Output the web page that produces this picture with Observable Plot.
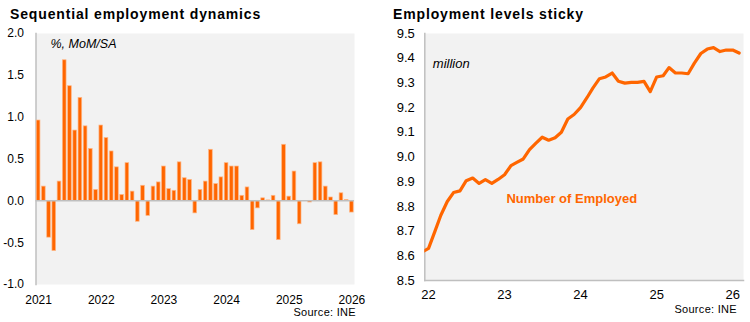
<!DOCTYPE html>
<html><head><meta charset="utf-8">
<script src="https://cdn.jsdelivr.net/npm/d3@7"></script>
<script src="https://cdn.jsdelivr.net/npm/@observablehq/plot@0.6"></script>
<style>
body{margin:0;background:#fff;font-family:"Liberation Sans",Arial,sans-serif;}
#wrap{position:relative;width:750px;height:322px;overflow:hidden;background:#fff;}
.t{position:absolute;white-space:nowrap;line-height:1;color:#000;}
.title{font-size:14px;font-weight:bold;letter-spacing:0.85px;}
.src{font-size:11px;text-align:right;letter-spacing:0.3px;}
.p{position:absolute;top:0;}
</style></head><body><div id="wrap">
<div class="t title" style="left:10px;top:7px">Sequential employment dynamics</div>
<div class="t title" style="left:393px;top:7px">Employment levels sticky</div>
<div class="t src" style="left:0;width:356px;top:307px">Source: INE</div>
<div class="t src" style="left:375px;width:362px;top:304px">Source: INE</div>
</div>
<script>
// ---- Left chart: monthly % change, Jan 2021 .. Jan 2026 ----
const momFirstYear = 2021;
const momValues = [
  0.96, 0.17, -0.44, -0.60, 0.23, 1.68, 1.37, 0.84, 1.23, 0.89, 0.62, 0.13,
  0.90, 0.75, 0.59, 0.40, 0.07, 0.45, 0.11, -0.25, 0.18, -0.18, 0.17, 0.22,
  0.41, 0.14, 0.12, 0.46, 0.27, 0.25, -0.15, 0.13, 0.23, 0.61, 0.20, 0.28,
  0.45, 0.41, 0.41, 0.06, 0.16, -0.35, -0.09, 0.03, 0.005, 0.06, -0.47, 0.67,
  0.05, 0.35, -0.28, 0.0, -0.02, 0.45, 0.46, 0.17, 0.04, -0.17, 0.09, 0.01, -0.14
];
const momYearTicks = ["2021", "2022", "2023", "2024", "2025", "2026"];
const momYTicks = [-1.0, -0.5, 0.0, 0.5, 1.0, 1.5, 2.0];

// ---- Right chart: employed persons (million), Dec 2021 .. Feb 2026 ----
const levelFirstMonth = "2021-12";
const levelValues = [
  8.615, 8.63, 8.70, 8.764, 8.82, 8.856, 8.863, 8.904, 8.915, 8.893, 8.908, 8.893,
  8.909, 8.928, 8.965, 8.978, 8.992, 9.030, 9.056, 9.080, 9.068, 9.078, 9.100, 9.154,
  9.172, 9.20, 9.24, 9.28, 9.317, 9.324, 9.340, 9.307, 9.299, 9.302, 9.302, 9.306,
  9.265, 9.324, 9.329, 9.362, 9.340, 9.340, 9.337, 9.380, 9.419, 9.437, 9.443, 9.427,
  9.433, 9.433, 9.421
];
const levelYearTicks = ["22", "23", "24", "25", "26"];
const levelYTicks = [8.5, 8.6, 8.7, 8.8, 8.9, 9.0, 9.1, 9.2, 9.3, 9.4, 9.5];
const levelXDomain = ["2021-12-14", "2026-02-22"];
const seriesLabel = "Number of Employed";
const seriesLabelAt = {date: "2023-11-20", value: 8.832};

const ORANGE = "#ff6600";
const GRID = "#bfbfbf";
const BG = "#f2f2f2";
const FONT = "'Liberation Sans', Arial, sans-serif";

// build tables
const momData = momValues.map((v, i) => {
  const y = momFirstYear + Math.floor(i / 12), m = (i % 12) + 1;
  return {month: `${y}-${String(m).padStart(2, "0")}`, value: v};
});
const momMonths = momData.map(d => d.month);

const [ly, lm] = levelFirstMonth.split("-").map(Number);
const levelData = levelValues.map((v, i) => ({
  date: new Date(Date.UTC(ly, lm - 1 + i, 1)),
  value: v
}));

const left = Plot.plot({
  width: 375, height: 322,
  marginLeft: 35.5, marginRight: 21, marginTop: 33, marginBottom: 38,
  style: {fontFamily: FONT, fontSize: "12px", background: "transparent", color: "#000"},
  x: {type: "band", domain: momMonths, paddingInner: 0.3, paddingOuter: 0.15, round: false, axis: null},
  y: {domain: [-1, 2], axis: null},
  marks: [
    Plot.frame({fill: BG, stroke: null}),
    Plot.frame({anchor: "left", stroke: GRID, strokeWidth: 1.5}),
    Plot.barY(momData, {x: "month", y: "value", fill: ORANGE, stroke: "#ffb684", strokeWidth: 0.7}),
    Plot.ruleY([0], {stroke: GRID, strokeWidth: 1.5}),
    Plot.axisY({ticks: momYTicks, tickFormat: d => d.toFixed(1), tickSize: 0, tickPadding: 12, fontSize: 12, label: null}),
    Plot.axisX({ticks: momYearTicks.map(y => y + "-01"), tickFormat: d => d.slice(0, 4), tickSize: 0, tickPadding: 11, fontSize: 12, label: null}),
    Plot.text(["%, MoM/SA"], {frameAnchor: "top-left", dx: 14.5, dy: 10, lineAnchor: "middle", fontStyle: "italic", fontSize: 12.5, fill: "#000"})
  ]
});

const right = Plot.plot({
  width: 375, height: 322,
  marginLeft: 49.3, marginRight: 7, marginTop: 33, marginBottom: 42,
  style: {fontFamily: FONT, fontSize: "13px", background: "transparent", color: "#000"},
  x: {type: "utc", domain: levelXDomain.map(d => new Date(d)), axis: null},
  y: {domain: [8.5, 9.5], axis: null},
  marks: [
    Plot.frame({fill: BG, stroke: null}),
    Plot.frame({anchor: "left", stroke: GRID, strokeWidth: 1.5}),
    Plot.frame({anchor: "bottom", stroke: GRID, strokeWidth: 1.5}),
    Plot.lineY(levelData, {x: "date", y: "value", stroke: ORANGE, strokeWidth: 3.2, clip: true, strokeLinejoin: "round"}),
    Plot.axisY({ticks: levelYTicks, tickFormat: d => d.toFixed(1), tickSize: 0, tickPadding: 10, fontSize: 13, label: null}),
    Plot.axisX({ticks: levelYearTicks.map(y => new Date(Date.UTC(2000 + +y, 0, 1))),
      tickFormat: d => String(d.getUTCFullYear()).slice(2), tickSize: 0, tickPadding: 9, fontSize: 13, label: null}),
    Plot.text(["million"], {frameAnchor: "top-left", dx: 8, dy: 30, lineAnchor: "middle", fontStyle: "italic", fontSize: 13, fill: "#000"}),
    Plot.text([seriesLabelAt], {x: d => new Date(d.date), y: "value", text: () => seriesLabel,
      fill: ORANGE, fontWeight: "bold", fontSize: 13, lineAnchor: "middle"})
  ]
});

left.classList.add("p"); left.style.left = "0px";
right.classList.add("p"); right.style.left = "375px";
const wrap = document.getElementById("wrap");
wrap.insertBefore(right, wrap.firstChild);
wrap.insertBefore(left, wrap.firstChild);
</script>
</body></html>
